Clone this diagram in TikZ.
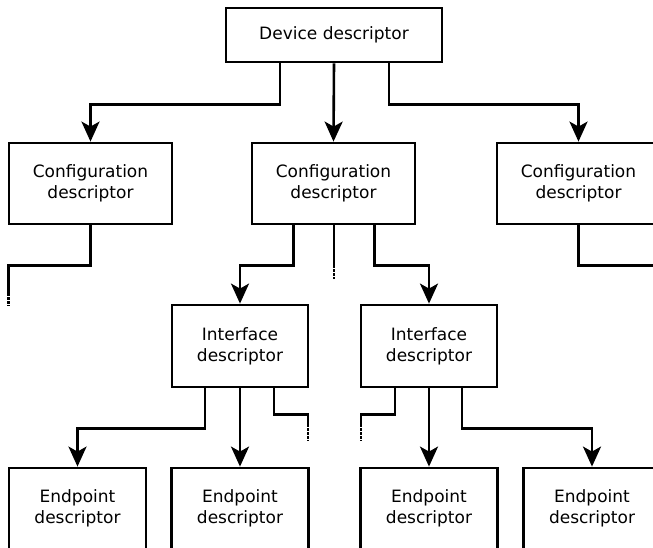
\documentclass[tikz,border=0pt]{standalone}
\usepackage{fontspec}
\setmainfont{DejaVu Sans}
\usetikzlibrary{arrows.meta}
\begin{document}
\begin{tikzpicture}[x=1pt,y=-1pt,
  box/.style={draw,line width=2.8pt,rectangle,align=center,inner sep=0pt,
    font=\fontsize{17}{21}\selectfont},
  devbox/.style={box,minimum width=216pt,minimum height=54pt},
  cfgbox/.style={box,minimum width=163pt,minimum height=81pt},
  ifbox/.style={box,minimum width=136pt,minimum height=82pt},
  epbox/.style={box,minimum width=137pt,minimum height=81pt},
  conn/.style={line width=2.6pt},
  arr/.style={conn,-{Stealth[length=20pt,width=18pt,inset=5pt]}},
  dotline/.style={line width=2.6pt,dash pattern=on 2.2pt off 1.8pt}]
\useasboundingbox (0,0) rectangle (653,548);
% nodes
\node[devbox] (dev) at (334,35) {Device descriptor};
\node[cfgbox] (cL) at (90.5,183.5) {Configuration\\descriptor};
\node[cfgbox] (cM) at (333.5,183.5) {Configuration\\descriptor};
\node[cfgbox] (cR) at (578.5,183.5) {Configuration\\descriptor};
\node[ifbox] (iL) at (240,346) {Interface\\descriptor};
\node[ifbox] (iR) at (429,346) {Interface\\descriptor};
\node[epbox] (e1) at (77.5,508.5) {Endpoint\\descriptor};
\node[epbox] (e2) at (240,508.5) {Endpoint\\descriptor};
\node[epbox] (e3) at (429,508.5) {Endpoint\\descriptor};
\node[epbox] (e4) at (592,508.5) {Endpoint\\descriptor};
% device -> configurations
\draw[arr] ([xshift=-54pt]dev.south) -- ++(0,41) -| (cL.north);
\draw[arr] ([xshift=0pt]dev.south) -- (cM.north);
\draw[arr] ([xshift=55pt]dev.south) -- ++(0,41) -| (cR.north);
% left configuration (continues)
\draw[conn] (cL.south) -- ++(0,40) -- ++(-82,0) -- ++(0,28) coordinate (dL);
\draw[dotline] (dL) -- ++(0,13);
% middle configuration -> interfaces
\draw[arr] ([xshift=-40pt]cM.south) -- ++(0,40) -| (iL.north);
\draw[conn] ([xshift=0.5pt]cM.south) -- ++(0,40) coordinate (dM);
\draw[dotline] (dM) -- ++(0,14);
\draw[arr] ([xshift=41pt]cM.south) -- ++(0,40) -| (iR.north);
% right configuration (continues)
\draw[conn] (cR.south) -- ++(0,40) -- ++(90,0);
% left interface -> endpoints
\draw[arr] ([xshift=-35pt]iL.south) -- ++(0,40) -| (e1.north);
\draw[arr] (iL.south) -- (e2.north);
\draw[conn] ([xshift=34pt]iL.south) -- ++(0,26) -- ++(34,0) -- ++(0,10) coordinate (dIL);
\draw[dotline] (dIL) -- ++(0,17);
% right interface -> endpoints
\draw[conn] ([xshift=-34pt]iR.south) -- ++(0,26) -- ++(-34,0) -- ++(0,10) coordinate (dIR);
\draw[dotline] (dIR) -- ++(0,17);
\draw[arr] (iR.south) -- (e3.north);
\draw[arr] ([xshift=33pt]iR.south) -- ++(0,40) -| (e4.north);
\end{tikzpicture}
\end{document}
